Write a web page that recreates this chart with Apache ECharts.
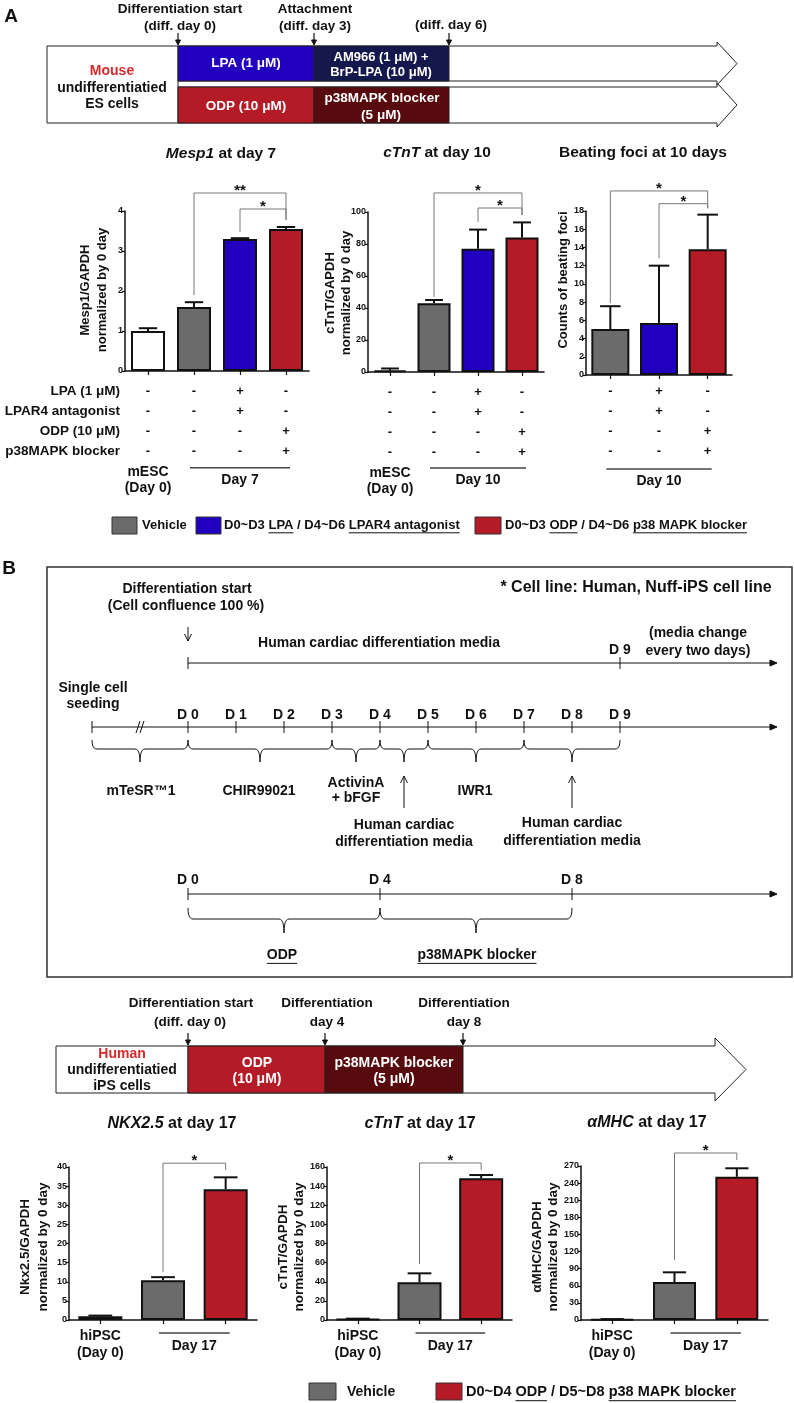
<!DOCTYPE html>
<html><head><meta charset="utf-8">
<script src="https://cdn.jsdelivr.net/npm/echarts@6/dist/echarts.min.js"></script>
<style>html,body{margin:0;padding:0;background:#fff}#c{width:794px;height:1403px}</style>
</head><body><div id="c"></div>
<script>
// ---------------- DATA ----------------
// Panel A
const catsA = ['mESC (Day 0)', 'Vehicle', 'LPA / LPAR4 antagonist', 'ODP / p38MAPK blocker'];
const catsFoci = ['Vehicle', 'LPA / LPAR4 antagonist', 'ODP / p38MAPK blocker'];
const mesp1Mean = [1.0, 1.6, 3.3, 3.55];
const mesp1Err = [0.07, 0.12, 0.02, 0.05];
const ctntAMean = [1.0, 43, 77, 84];
const ctntAErr = [1.2, 2, 12, 9.5];
const fociMean = [5.05, 5.7, 13.8];
const fociErr = [2.5, 6.3, 3.8];
const rowLabelsA = ['LPA (1 μM)', 'LPAR4 antagonist', 'ODP (10 μM)', 'p38MAPK blocker'];
const treatA4 = [['-','-','+','-'], ['-','-','+','-'], ['-','-','-','+'], ['-','-','-','+']];
const treatA3 = [['-','+','-'], ['-','+','-'], ['-','-','+'], ['-','-','+']];
const baseLabelA = ['mESC', '(Day 0)'];
// significance brackets: [fromIdx, toIdx, topValue, leftLegEnd, rightLegEnd]
const sigMesp1 = [[1, 3, 4.45, 1.9, 3.78], [2, 3, 4.05, 3.48, 3.78]];
const sigMesp1Lbl = ['**', '*'];
const sigCtntA = [[1, 3, 111.9, 46.9, 98.1], [2, 3, 102.5, 93.8, 98.1]];
const sigCtntALbl = ['*', '*'];
const sigFoci = [[0, 2, 20.2, 7.9, 18.3], [1, 2, 18.8, 12.8, 18.3]];
const sigFociLbl = ['*', '*'];
const groupA1 = ['Day 7', 1, 3];
const groupA2 = ['Day 10', 1, 3];
const groupA3 = ['Day 10', 0, 2];
// Panel B
const catsB = ['hiPSC (Day 0)', 'Vehicle', 'ODP / p38MAPK blocker'];
const nkxMean = [1.0, 10.4, 34.2];
const nkxErr = [0.15, 0.8, 3.1];
const ctntBMean = [1.0, 39.5, 148.2];
const ctntBErr = [0.4, 9.3, 3.4];
const mhcMean = [1.0, 66.6, 251];
const mhcErr = [0.6, 17, 15];
const baseLabelB = ['hiPSC', '(Day 0)'];
const sigNkx = [[1, 2, 41.0, 12.5, 39.2]];
const sigCtntB = [[1, 2, 164.2, 58.6, 156.9]];
const sigMhc = [[1, 2, 292.8, 105.2, 280.5]];
const sigBLbl = ['*'];
const groupB = ['Day 17', 1, 2];

// ---------------- STYLE ----------------
const ARIAL = "'Liberation Sans', Arial, Helvetica, sans-serif";
const F = (s, fam, st) => `${st || 'normal'} bold ${s}px ${fam || ARIAL}`;
const INK = '#111';
const WHITE = '#ffffff', GRAY = '#6b6b6b', BLUE = '#2200bf', RED = '#b41b26', NAVY = '#15184c', DRED = '#580b0e', MRED = '#d42a2c';

const mctx = document.createElement('canvas').getContext('2d');
function tw(t, font) { mctx.font = font; return mctx.measureText(t).width; }

function txt(x, y, text, o = {}) {
  const al = o.align || 'center', va = o.va || 'middle';
  return { type: 'text', x, y, rotation: o.rot || 0, z: 20,
    style: { text, font: o.font || F(13), fill: o.fill || INK, textAlign: al, textVerticalAlign: va, align: al, verticalAlign: va } };
}
function ln(x1, y1, x2, y2, o = {}) {
  return { type: 'line', z: o.z || 15, shape: { x1, y1, x2, y2 }, style: { stroke: o.stroke || INK, lineWidth: o.w || 1 } };
}
function rc(x, y, w, h, o = {}) {
  return { type: 'rect', z: o.z || 12, shape: { x, y, width: w, height: h }, style: { fill: o.fill || 'none', stroke: o.stroke || '#222', lineWidth: o.w || 1 } };
}
function pg(points, o = {}) {
  return { type: 'polygon', z: o.z || 11, shape: { points }, style: { fill: o.fill || '#fff', stroke: o.stroke || '#222', lineWidth: o.w || 1 } };
}
function pl(points, o = {}) {
  return { type: 'polyline', z: o.z || 15, shape: { points }, style: { fill: 'none', stroke: o.stroke || INK, lineWidth: o.w || 1 } };
}
function downArrowFilled(x, y1, y2) {
  return [ln(x, y1, x, y2 - 4, { w: 1.2 }), pg([[x - 2.5, y2 - 5], [x + 2.5, y2 - 5], [x, y2]], { fill: INK, stroke: INK, z: 16 })];
}
function downArrowOpen(x, y1, y2) {
  return [ln(x, y1, x, y2), pl([[x - 3.5, y2 - 7], [x, y2], [x + 3.5, y2 - 7]])];
}
function upArrowOpen(x, y1, y2) {
  return [ln(x, y1, x, y2), pl([[x - 3.5, y1 + 7], [x, y1], [x + 3.5, y1 + 7]])];
}
function hArrow(x1, x2, y) {
  return [ln(x1, y, x2 - 5, y), pg([[x2, y], [x2 - 7, y - 3], [x2 - 7, y + 3]], { fill: INK, stroke: INK, z: 16 })];
}
function quad(p0, c, p1, n) {
  const out = [];
  for (let i = 1; i <= n; i++) { const t = i / n; out.push([(1 - t) * (1 - t) * p0[0] + 2 * (1 - t) * t * c[0] + t * t * p1[0], (1 - t) * (1 - t) * p0[1] + 2 * (1 - t) * t * c[1] + t * t * p1[1]]); }
  return out;
}
function brace(x1, x2, y0, h, tip) {
  const m = (x1 + x2) / 2, r = 5, yb = y0 + h;
  let pts = [[x1, y0]];
  pts = pts.concat(quad([x1, y0], [x1, yb], [x1 + r, yb], 6));
  pts.push([m - r, yb]);
  pts = pts.concat(quad([m - r, yb], [m, yb], [m, yb + tip], 6));
  pts = pts.concat(quad([m, yb + tip], [m, yb], [m + r, yb], 6));
  pts.push([x2 - r, yb]);
  pts = pts.concat(quad([x2 - r, yb], [x2, yb], [x2, y0], 6));
  return pl(pts, { w: 1 });
}
function partsLine(x, y, parts, font, size, align) {
  const total = parts.reduce((s, p) => s + tw(p[0], font), 0);
  let cx = align === 'center' ? x - total / 2 : x;
  const els = [];
  parts.forEach(([t, u]) => {
    const w = tw(t, font);
    els.push(txt(cx, y, t, { font, align: 'left' }));
    if (u) els.push(ln(cx, y + size * 0.6, cx + w, y + size * 0.6, { w: 1 }));
    cx += w;
  });
  return els;
}
function titleEl(x, y, ital, rest, size) {
  return { type: 'text', x, y, z: 20, style: {
    text: (ital ? `{i|${ital}}` : '') + `{n|${rest}}`, textAlign: 'center', textVerticalAlign: 'middle', align: 'center', verticalAlign: 'middle',
    font: F(size), fill: INK,
    rich: { i: { fontStyle: 'italic', fontWeight: 'bold', fontSize: size, fontFamily: ARIAL, fill: INK, color: INK },
            n: { fontWeight: 'bold', fontSize: size, fontFamily: ARIAL, fill: INK, color: INK } } } };
}

// ---------------- CHARTS ----------------
const layout = [
  { left: 125, top: 211, width: 184, height: 160 },
  { left: 368, top: 212, width: 176, height: 160 },
  { left: 586, top: 211, width: 146, height: 164 },
  { left: 69, top: 1167, width: 188, height: 153 },
  { left: 327, top: 1167, width: 185, height: 153 },
  { left: 581, top: 1166, width: 187, height: 154 }
];
const specs = [
  { cats: catsA, mean: mesp1Mean, err: mesp1Err, colors: [WHITE, GRAY, BLUE, RED], max: 4, interval: 1, sig: sigMesp1, sigLbl: sigMesp1Lbl, bw: 34, treat: treatA4, base: baseLabelA, margin: 10, group: groupA1 },
  { cats: catsA, mean: ctntAMean, err: ctntAErr, colors: [WHITE, GRAY, BLUE, RED], max: 100, interval: 20, sig: sigCtntA, sigLbl: sigCtntALbl, bw: 33, treat: treatA4, base: baseLabelA, margin: 10, group: groupA2 },
  { cats: catsFoci, mean: fociMean, err: fociErr, colors: [GRAY, BLUE, RED], max: 18, interval: 2, sig: sigFoci, sigLbl: sigFociLbl, bw: 38, treat: treatA3, base: null, margin: 6, group: groupA3 },
  { cats: catsB, mean: nkxMean, err: nkxErr, colors: [WHITE, GRAY, RED], max: 40, interval: 5, sig: sigNkx, sigLbl: sigBLbl, bw: 44, treat: null, base: baseLabelB, margin: 8, group: groupB },
  { cats: catsB, mean: ctntBMean, err: ctntBErr, colors: [WHITE, GRAY, RED], max: 160, interval: 20, sig: sigCtntB, sigLbl: sigBLbl, bw: 44, treat: null, base: baseLabelB, margin: 8, group: groupB },
  { cats: catsB, mean: mhcMean, err: mhcErr, colors: [WHITE, GRAY, RED], max: 270, interval: 30, sig: sigMhc, sigLbl: sigBLbl, bw: 43, treat: null, base: baseLabelB, margin: 8, group: groupB }
];

const grids = [], xAxes = [], yAxes = [], series = [];
specs.forEach((s, i) => {
  grids.push(Object.assign({ containLabel: false, outerBoundsMode: 'none' }, layout[i]));
  xAxes.push({
    type: 'category', gridIndex: i, data: s.cats,
    axisLine: { show: true, lineStyle: { color: INK, width: 1.5 } },
    axisTick: { show: true, alignWithLabel: true, length: 4, lineStyle: { color: INK, width: 1.2 } },
    axisLabel: {
      interval: 0, margin: s.margin, color: INK,
      formatter: (v, idx) => {
        const lines = [];
        if (s.treat) s.treat.forEach(r => lines.push(`{s|${r[idx]}}`));
        if (s.base && idx === 0) {
          if (s.treat) { lines.push(`{g1|${s.base[0]}}`, `{g2|${s.base[1]}}`); }
          else { lines.push(`{h|${s.base[0]}}`, `{h|${s.base[1]}}`); }
        }
        return lines.length ? lines.join('\n') : '';
      },
      rich: {
        s: { fontFamily: ARIAL, fontWeight: 'bold', fontSize: 13, lineHeight: 20, color: INK },
        g1: { fontFamily: ARIAL, fontWeight: 'bold', fontSize: 14, lineHeight: 22, color: INK },
        g2: { fontFamily: ARIAL, fontWeight: 'bold', fontSize: 14, lineHeight: 10, color: INK },
        h: { fontFamily: ARIAL, fontWeight: 'bold', fontSize: 14, lineHeight: 17, color: INK }
      }
    },
    splitLine: { show: false }
  });
  yAxes.push({
    type: 'value', gridIndex: i, min: 0, max: s.max, interval: s.interval,
    axisLine: { show: true, lineStyle: { color: INK, width: 1.5 } },
    axisTick: { show: true, length: 3, lineStyle: { color: INK, width: 1.2 } },
    axisLabel: { margin: 2, color: INK, fontFamily: ARIAL, fontWeight: 'bold', fontSize: 9 },
    splitLine: { show: false }
  });
  series.push({
    type: 'bar', xAxisIndex: i, yAxisIndex: i, barWidth: s.bw, silent: true, z: 2,
    itemStyle: { borderColor: INK, borderWidth: 2 },
    data: s.mean.map((v, k) => ({ value: v, itemStyle: { color: s.colors[k] } }))
  });
  const capHalf = s.bw * 0.27;
  series.push({
    type: 'custom', xAxisIndex: i, yAxisIndex: i, silent: true, z: 3, clip: false,
    data: s.mean.map((v, k) => [k, v, v + s.err[k]]),
    renderItem: (params, api) => {
      const x = api.value(0);
      const p0 = api.coord([x, api.value(1)]);
      const p1 = api.coord([x, api.value(2)]);
      return { type: 'group', children: [
        { type: 'line', shape: { x1: p0[0], y1: p0[1], x2: p1[0], y2: p1[1] }, style: { stroke: INK, lineWidth: 2 } },
        { type: 'line', shape: { x1: p1[0] - capHalf, y1: p1[1], x2: p1[0] + capHalf, y2: p1[1] }, style: { stroke: INK, lineWidth: 2 } }
      ] };
    }
  });
  series.push({
    type: 'custom', xAxisIndex: i, yAxisIndex: i, silent: true, z: 4, clip: false,
    data: s.sig,
    renderItem: (params, api) => {
      const a = api.coord([api.value(0), api.value(2)]);
      const b = api.coord([api.value(1), api.value(2)]);
      const le = api.coord([api.value(0), api.value(3)]);
      const re = api.coord([api.value(1), api.value(4)]);
      return { type: 'group', children: [
        { type: 'polyline', shape: { points: [le, a, b, re] }, style: { stroke: '#777', lineWidth: 1, fill: null } },
        { type: 'text', x: (a[0] + b[0]) / 2, y: a[1] - 2, style: { text: s.sigLbl[params.dataIndex], font: F(15), fill: INK, textAlign: 'center', textVerticalAlign: 'middle', align: 'center', verticalAlign: 'middle' } }
      ] };
    }
  });
});

const chart = echarts.init(document.getElementById('c'), null, { renderer: 'canvas', width: 794, height: 1403 });
chart.setOption({ animation: false, backgroundColor: '#fff', grid: grids, xAxis: xAxes, yAxis: yAxes, series });

// ---------------- GRAPHICS ----------------
let G = [];
const F13 = F(13), F135 = F(13.5), F14 = F(14);

// Panel A diagram
G.push(txt(11, 17, 'A', { font: F(19) }));
G.push(txt(180, 9, 'Differentiation start', { font: F135 }), txt(180, 26, '(diff. day 0)', { font: F135 }));
G.push(txt(315, 9, 'Attachment', { font: F135 }), txt(315, 26, '(diff. day 3)', { font: F135 }));
G.push(txt(451, 25, '(diff. day 6)', { font: F135 }));
G = G.concat(downArrowFilled(178, 33, 45), downArrowFilled(314, 33, 45), downArrowFilled(449, 33, 45));
G.push(pg([[178, 87], [717, 87], [717, 83], [737, 105], [717, 127], [717, 123], [178, 123]], { z: 10 }));
G.push(pg([[178, 46], [717, 46], [717, 42], [737, 63.5], [717, 85], [717, 81], [178, 81]], { z: 11 }));
G.push(rc(47, 46, 131, 77, { fill: '#fff' }));
G.push(rc(178, 46, 136, 35, { fill: BLUE }), rc(314, 46, 135, 35, { fill: NAVY }));
G.push(rc(178, 87, 136, 36, { fill: RED }), rc(314, 87, 135, 36, { fill: DRED }));
G.push(txt(246, 63, 'LPA (1 μM)', { font: F135, fill: '#fff' }));
G.push(txt(381, 57, 'AM966 (1 μM) +', { font: F13, fill: '#fff' }), txt(381, 72, 'BrP-LPA (10 μM)', { font: F13, fill: '#fff' }));
G.push(txt(246, 106, 'ODP (10 μM)', { font: F135, fill: '#fff' }));
G.push(txt(382, 98, 'p38MAPK blocker', { font: F135, fill: '#fff' }), txt(381, 115, '(5 μM)', { font: F135, fill: '#fff' }));
G.push(txt(112, 71, 'Mouse', { font: F14, fill: MRED }), txt(112, 88, 'undifferentiatied', { font: F14 }), txt(112, 104, 'ES cells', { font: F14 }));

// chart titles
G.push(titleEl(221, 154, 'Mesp1', ' at day 7', 15.5));
G.push(titleEl(437, 153, 'cTnT', ' at day 10', 15.5));
G.push(titleEl(643, 153, '', 'Beating foci at 10 days', 15.5));
G.push(titleEl(172, 1124, 'NKX2.5', ' at day 17', 16));
G.push(titleEl(420, 1124, 'cTnT', ' at day 17', 16));
G.push(titleEl(647, 1123, 'αMHC', ' at day 17', 16));

// y-axis titles
const R = Math.PI / 2;
G.push(txt(85, 290, 'Mesp1/GAPDH', { rot: R }), txt(102, 290, 'normalized by 0 day', { rot: R }));
G.push(txt(330, 293, 'cTnT/GAPDH', { rot: R }), txt(346, 293, 'normalized by 0 day', { rot: R }));
G.push(txt(563, 280, 'Counts of beating foci', { rot: R }));
G.push(txt(25, 1247, 'Nkx2.5/GAPDH', { rot: R, font: F(13.5) }), txt(43, 1247, 'normalized by 0 day', { rot: R, font: F(13.5) }));
G.push(txt(283, 1247, 'cTnT/GAPDH', { rot: R, font: F(13.5) }), txt(299, 1247, 'normalized by 0 day', { rot: R, font: F(13.5) }));
G.push(txt(537, 1247, 'αMHC/GAPDH', { rot: R, font: F(13.5) }), txt(553, 1247, 'normalized by 0 day', { rot: R, font: F(13.5) }));

// table row labels + group lines (positions from the axes)
const y0A = chart.convertToPixel({ gridIndex: 0 }, [0, 0])[1];
rowLabelsA.forEach((t, r) => G.push(txt(120, y0A + specs[0].margin + 10 + 20 * r, t, { font: F135, align: 'right' })));
specs.forEach((s, i) => {
  const g = s.group;
  const pA = chart.convertToPixel({ gridIndex: i }, [g[1], 0]);
  const pB = chart.convertToPixel({ gridIndex: i }, [g[2], 0]);
  const isA = i < 3;
  const ly = isA ? 468 + (pA[1] - 372) * 0.3 : pA[1] + 13;
  G.push(ln(pA[0] - 4, ly, pB[0] + 4, ly, { w: 1.5, stroke: '#444' }));
  G.push(txt((pA[0] + pB[0]) / 2, ly + (isA ? 12 : 13), g[0], { font: F14 }));
});

// Legend A
G.push(rc(112, 517, 25, 17, { fill: GRAY, stroke: '#333' }));
G.push(txt(142, 525, 'Vehicle', { font: F13, align: 'left' }));
G.push(rc(196, 517, 25, 17, { fill: BLUE, stroke: '#333' }));
G = G.concat(partsLine(224, 525, [['D0~D3 ', 0], ['LPA', 1], [' / D4~D6 ', 0], ['LPAR4 antagonist', 1]], F13, 13, 'left'));
G.push(rc(475, 517, 26, 17, { fill: RED, stroke: '#333' }));
G = G.concat(partsLine(505, 525, [['D0~D3 ', 0], ['ODP', 1], [' / D4~D6 ', 0], ['p38 MAPK blocker', 1]], F13, 13, 'left'));

// Panel B box
G.push(txt(9, 569, 'B', { font: F(19) }));
G.push(rc(47, 567, 745, 410, { w: 1.5, stroke: '#333' }));
G.push(txt(187, 589, 'Differentiation start', { font: F14 }), txt(186, 606, '(Cell confluence 100 %)', { font: F14 }));
G.push(txt(636, 588, '* Cell line: Human, Nuff-iPS cell line', { font: F(16) }));
G = G.concat(downArrowOpen(188, 627, 641));
G.push(txt(379, 643, 'Human cardiac differentiation media', { font: F14 }));
G.push(txt(620, 650, 'D 9', { font: F14 }));
G.push(txt(698, 633, '(media change', { font: F14 }), txt(698, 651, 'every two days)', { font: F14 }));
G = G.concat(hArrow(188, 777, 663));
G.push(ln(188, 657, 188, 669), ln(620, 657, 620, 669));
G.push(txt(93, 688, 'Single cell', { font: F14 }), txt(93, 704, 'seeding', { font: F14 }));
for (let d = 0; d <= 9; d++) {
  const x = 188 + 48 * d;
  G.push(txt(x, 715, 'D ' + d, { font: F14 }));
  G.push(ln(x, 721, x, 733));
}
G = G.concat(hArrow(92, 777, 727));
G.push(ln(92, 721, 92, 733));
G.push(ln(136, 733, 140, 721), ln(140, 733, 144, 721));
[[92, 188], [188, 332], [332, 380], [380, 428], [428, 524], [524, 620]].forEach(([a, b]) => G.push(brace(a, b, 740, 9, 13)));
G.push(txt(141, 791, 'mTeSR™1', { font: F14 }), txt(259, 791, 'CHIR99021', { font: F14 }));
G.push(txt(356, 783, 'ActivinA', { font: F14 }), txt(356, 798, '+ bFGF', { font: F14 }));
G.push(txt(475, 791, 'IWR1', { font: F14 }));
G = G.concat(upArrowOpen(404, 776, 808), upArrowOpen(572, 776, 808));
G.push(txt(404, 825, 'Human cardiac', { font: F14 }), txt(404, 842, 'differentiation media', { font: F14 }));
G.push(txt(572, 823, 'Human cardiac', { font: F14 }), txt(572, 841, 'differentiation media', { font: F14 }));
G.push(txt(188, 880, 'D 0', { font: F14 }), txt(380, 880, 'D 4', { font: F14 }), txt(572, 880, 'D 8', { font: F14 }));
G = G.concat(hArrow(188, 777, 894));
G.push(ln(188, 888, 188, 900), ln(380, 888, 380, 900), ln(572, 888, 572, 900));
G.push(brace(188, 380, 908, 11, 14), brace(380, 572, 908, 11, 14));
G = G.concat(partsLine(282, 955, [['ODP', 1]], F14, 14, 'center'));
G = G.concat(partsLine(477, 955, [['p38MAPK blocker', 1]], F14, 14, 'center'));

// Panel B lower diagram
G.push(txt(191, 1003, 'Differentiation start', { font: F135 }), txt(190, 1022, '(diff. day 0)', { font: F135 }));
G.push(txt(327, 1003, 'Differentiation', { font: F135 }), txt(327, 1022, 'day 4', { font: F135 }));
G.push(txt(464, 1003, 'Differentiation', { font: F135 }), txt(464, 1022, 'day 8', { font: F135 }));
G = G.concat(downArrowFilled(188, 1033, 1045), downArrowFilled(325, 1033, 1045), downArrowFilled(463, 1033, 1045));
G.push(pg([[188, 1046], [715, 1046], [715, 1038], [746, 1069.5], [715, 1101], [715, 1093], [188, 1093]]));
G.push(rc(56, 1046, 132, 47, { fill: '#fff' }));
G.push(rc(188, 1046, 137, 47, { fill: RED }), rc(325, 1046, 138, 47, { fill: DRED }));
G.push(txt(122, 1054, 'Human', { font: F14, fill: MRED }), txt(122, 1070, 'undifferentiatied', { font: F14 }), txt(122, 1086, 'iPS cells', { font: F14 }));
G.push(txt(257, 1063, 'ODP', { font: F14, fill: '#fff' }), txt(257, 1079, '(10 μM)', { font: F14, fill: '#fff' }));
G.push(txt(394, 1063, 'p38MAPK blocker', { font: F14, fill: '#fff' }), txt(394, 1079, '(5 μM)', { font: F14, fill: '#fff' }));

// Legend B
G.push(rc(309, 1383, 27, 17, { fill: GRAY, stroke: '#333' }));
G.push(txt(347, 1392, 'Vehicle', { font: F14, align: 'left' }));
G.push(rc(436, 1383, 26, 17, { fill: RED, stroke: '#333' }));
G = G.concat(partsLine(466, 1392, [['D0~D4 ', 0], ['ODP', 1], [' / D5~D8 ', 0], ['p38 MAPK blocker', 1]], F(14.5), 14.5, 'left'));

chart.setOption({ graphic: { elements: G } });
</script></body></html>
